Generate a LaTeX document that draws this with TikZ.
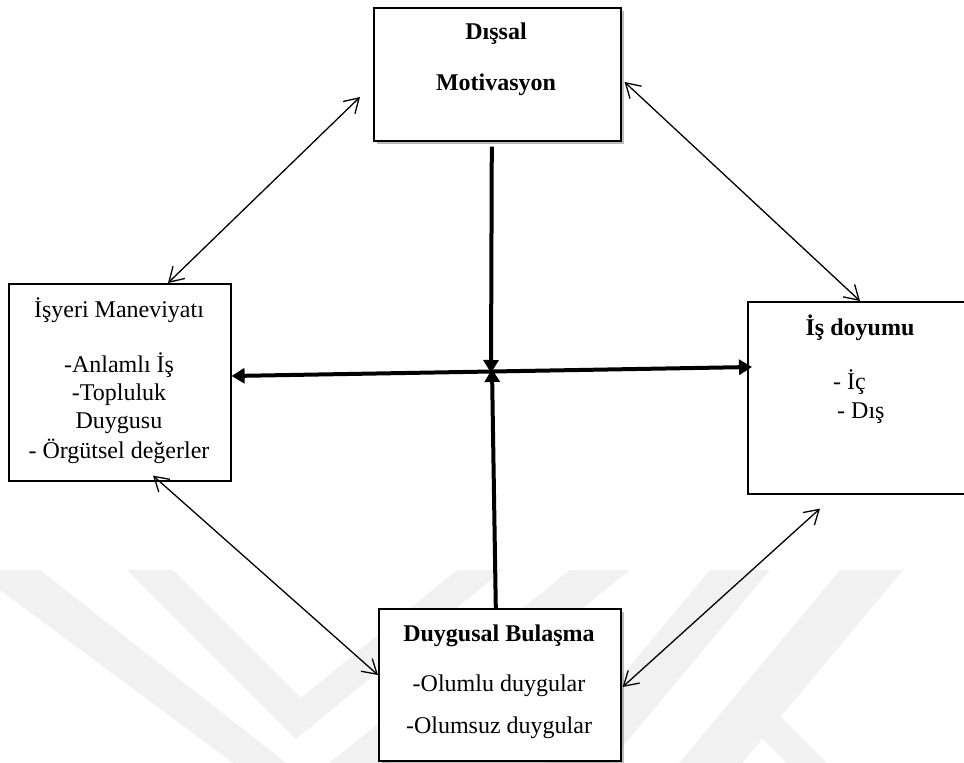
\documentclass[tikz,border=0pt]{standalone}
\usepackage{fontspec}
\setmainfont{Liberation Serif}
\usetikzlibrary{arrows.meta,shadows}
\definecolor{wm}{RGB}{241,241,241}
\begin{document}
\begin{tikzpicture}[x=1pt,y=-1pt,
  box/.style={draw, line width=1.6pt, fill=white, rectangle, anchor=north west, inner sep=0pt},
  shadowbox/.style={box, drop shadow={shadow xshift=3pt, shadow yshift=-3pt, opacity=0.45, fill=black!60}},
  lbl/.style={font=\fontsize{24}{28}\selectfont, inner sep=0pt, anchor=base},
  ttl/.style={lbl, font=\fontsize{24}{28}\selectfont\bfseries},
  thinarrow/.style={line width=1.3pt, {Straight Barb[length=14pt,width=17pt]}-{Straight Barb[length=14pt,width=17pt]}},
  thickarrow/.style={line width=4pt, -{Triangle[length=13pt,width=15pt]}},
  band/.style={fill=wm, draw=none}]
\useasboundingbox (0,0) rectangle (964,763);

% faint background emblem
\fill[band] (-27,570) -- (40,570) -- (308,780) -- (570,570) -- (630,570) -- (314,823) -- cycle;
\fill[band] (127,570) -- (173,570) -- (301,698) -- (457,570) -- (503,570) -- (296,739) -- cycle;
\fill[band] (710,570) -- (770,570) -- (600,774) -- (540,774) -- cycle;
\fill[band] (840,570) -- (903,570) -- (733,774) -- (670,774) -- cycle;
\fill[band] (740,716) -- (780,716) -- (840,776) -- (800,776) -- cycle;

% boxes
\node[shadowbox, minimum width=247pt, minimum height=133pt] (mot) at (373,7) {};
\node[box, minimum width=222pt, minimum height=197pt] (isy) at (8,283) {};
\node[box, minimum width=240pt, minimum height=192pt] (doy) at (747,301) {};
\node[shadowbox, minimum width=242pt, minimum height=152pt] (duy) at (378,608) {};

% texts
\node[ttl] (motA) at (496,39) {Dışsal};
\node[ttl] (motB) at (496,90) {Motivasyon};

\node[lbl] (isyA) at (119,317) {İşyeri Maneviyatı};
\node[lbl] (isyB) at (119,372) {-Anlamlı İş};
\node[lbl] (isyC) at (119,400) {-Topluluk};
\node[lbl] (isyD) at (119,428) {Duygusu};
\node[lbl] (isyE) at (119,458) {- Örgütsel değerler};

\node[ttl] (doyA) at (860,335) {İş doyumu};
\node[lbl, anchor=base west] (doyB) at (833,389) {- İç};
\node[lbl, anchor=base west] (doyC) at (837,418) {- Dış};

\node[ttl] (duyA) at (499,641) {Duygusal Bulaşma};
\node[lbl] (duyB) at (499,691) {-Olumlu duygular};
\node[lbl] (duyC) at (499,733) {-Olumsuz duygular};

% connector end points
\coordinate (p1) at ([xshift=160pt]isy.north west);
\coordinate (q1) at ([xshift=-13pt,yshift=-90pt]mot.north west);
\coordinate (p2) at ([xshift=3pt,yshift=-75pt]mot.north east);
\coordinate (q2) at ([xshift=113pt]doy.north west);
\coordinate (p3) at ([xshift=145pt,yshift=6pt]isy.south west);
\coordinate (q3) at ([yshift=-67pt]duy.north west);
\coordinate (p4) at ([xshift=1pt,yshift=-79pt]duy.north east);
\coordinate (q4) at ([xshift=73pt,yshift=-14pt]doy.south west);
\coordinate (hl) at ([yshift=-93pt]isy.north east);
\coordinate (hr) at ([xshift=5pt,yshift=-66pt]doy.north west);
\coordinate (vt) at ([xshift=-5.5pt,yshift=-5pt]mot.south);
\coordinate (vb) at ([xshift=-4pt]duy.north);
\coordinate (hubT) at (491,373);
\coordinate (hubB) at (492,369);

% thin two-headed connectors
\draw[thinarrow] (p1) -- (q1);
\draw[thinarrow] (p2) -- (q2);
\draw[thinarrow] (p3) -- (q3);
\draw[thinarrow] (p4) -- (q4);

% thick connectors
\draw[line width=4pt, {Triangle[length=13pt,width=15pt]}-{Triangle[length=13pt,width=15pt]}] (hl) -- (hr);
\draw[thickarrow] (vt) -- (hubT);
\draw[thickarrow] (vb) -- (hubB);
\end{tikzpicture}
\end{document}
